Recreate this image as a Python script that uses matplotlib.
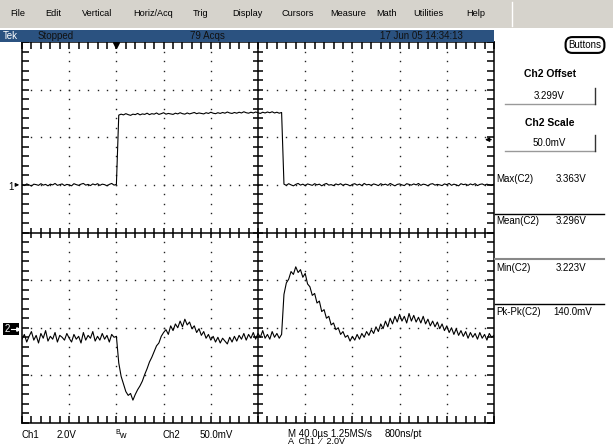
import numpy as np
import matplotlib
matplotlib.use('Agg')
import matplotlib.pyplot as plt
from matplotlib.patches import Rectangle
from matplotlib.lines import Line2D

plt.rcParams['font.family'] = ['Liberation Sans', 'DejaVu Sans']

# ---- data (2 us per sample) ----
t_us = np.arange(-80, 321, 2)

# Ch1 in volts
ch1_low_a = [0.02, -0.03, 0.04, 0.00, -0.05, 0.03, 0.01, -0.02, 0.05, -0.01,
             0.02, -0.04, 0.03, 0.00, 0.06, -0.02, 0.01, 0.04, -0.03, 0.02,
             0.00, -0.04, 0.05, 0.01, -0.02, 0.03, 0.06, -0.01, 0.02, -0.03,
             0.04, 0.00, 0.05, -0.02, 0.03, 0.01, -0.04, 0.02, 0.06, -0.01, 0.02]
ch1_high = [2.93, 2.97, 2.94, 2.99, 2.95, 2.92, 2.97, 2.95, 3.00, 2.94,
            2.98, 2.96, 3.01, 2.95, 2.99, 2.97, 3.02, 2.96, 2.99, 3.03,
            2.97, 3.00, 2.98, 2.96, 3.01, 2.98, 3.03, 2.99, 2.97, 3.02,
            2.98, 3.01, 3.04, 2.99, 3.02, 3.00, 2.98, 3.03, 3.00, 3.05,
            3.01, 2.99, 3.03, 3.00, 3.04, 3.01, 3.06, 3.02, 3.00, 3.04,
            3.01, 3.05, 3.02, 3.07, 3.03, 3.01, 3.05, 3.02, 3.06, 3.03,
            3.00, 3.05, 3.02, 3.06, 3.03, 3.07, 3.02, 3.05, 3.01, 3.04]
ch1_low_b = [0.03, -0.02, 0.05, 0.00, -0.04, 0.02, 0.06, -0.01, 0.03, -0.03,
             0.04, 0.01, -0.02, 0.05, 0.00, 0.03, -0.04, 0.02, 0.06, -0.01,
             0.01, -0.03, 0.04, 0.00, 0.05, -0.02, 0.03, 0.01, -0.04, 0.02,
             0.05, -0.01, 0.03, -0.03, 0.06, 0.00, 0.02, -0.02, 0.04, 0.01,
             -0.03, 0.05, 0.00, 0.03, -0.02, 0.06, 0.01, -0.04, 0.02, 0.04,
             0.00, -0.03, 0.05, 0.02, -0.01, 0.04, 0.00, 0.06, -0.02, 0.03,
             0.01, -0.04, 0.03, 0.05, -0.01, 0.02, 0.00, -0.03, 0.04, 0.01,
             0.06, -0.02, 0.03, 0.00, -0.04, 0.05, 0.01, 0.03, -0.02, 0.04,
             0.00, 0.05, -0.03, 0.02, 0.04, -0.01, 0.03, 0.00, -0.02, 0.03]

# Ch2 in millivolts
ch2_pre = [3287, 3292, 3284, 3290, 3295, 3286, 3291, 3283, 3293, 3288,
           3296, 3285, 3290, 3287, 3294, 3284, 3291, 3289, 3286, 3293,
           3288, 3284, 3292, 3287, 3290, 3283, 3294, 3286, 3291, 3288,
           3295, 3285, 3290, 3286, 3293, 3287, 3291, 3284, 3292, 3289, 3290]
ch2_dip = [3262, 3248, 3240, 3232, 3228, 3230, 3223, 3229, 3234, 3238,
           3243, 3250, 3256, 3263, 3268, 3274, 3280, 3283, 3290, 3294]
ch2_mid = [3297, 3292, 3301, 3296, 3303, 3299, 3306, 3300, 3308, 3302,
           3305, 3298, 3301, 3294, 3298, 3291, 3295, 3288, 3292, 3286,
           3290, 3284, 3289, 3283, 3288, 3285, 3282, 3289, 3284, 3290,
           3285, 3291, 3287, 3293, 3286, 3292, 3288, 3294, 3287, 3293,
           3289, 3296, 3288, 3292, 3287, 3295, 3289, 3293, 3288, 3292]
ch2_post = [3334, 3346, 3350, 3358, 3355, 3363, 3357, 3360, 3352, 3356,
            3345, 3342, 3333, 3335, 3325, 3327, 3316, 3318, 3309, 3311,
            3302, 3304, 3297, 3299, 3292, 3295, 3289, 3291, 3285, 3290,
            3286, 3292, 3287, 3293, 3289, 3295, 3291, 3297, 3293, 3300,
            3295, 3303, 3298, 3306, 3300, 3309, 3303, 3311, 3305, 3313,
            3306, 3311, 3304, 3314, 3306, 3312, 3305, 3310, 3304, 3311,
            3303, 3308, 3301, 3306, 3300, 3305, 3298, 3303, 3296, 3301,
            3294, 3299, 3292, 3298, 3291, 3296, 3290, 3295, 3288, 3294,
            3289, 3293, 3287, 3294, 3288, 3292, 3286, 3293, 3289, 3291]

ch1_v = np.array(ch1_low_a + ch1_high + ch1_low_b)
ch2_v = np.array(ch2_pre + ch2_dip + ch2_mid + ch2_post) / 1000.0

# scope settings
ch1_scale, ch1_pos = 2.0, 1.0
ch2_scale, ch2_offset, ch2_pos = 0.05, 3.299, -2.0
trig_level = 1.9

menu_items = ['File', 'Edit', 'Vertical', 'Horiz/Acq', 'Trig', 'Display',
              'Cursors', 'Measure', 'Math', 'Utilities', 'Help']
meas_names = ['Max(C2)', 'Mean(C2)', 'Min(C2)', 'Pk-Pk(C2)']
meas_vals = ['3.363V', '3.296V', '3.223V', '140.0mV']

# ---- figure ----
W, H = 613, 447
fig = plt.figure(figsize=(W / 100, H / 100), dpi=100)
fig.patch.set_facecolor('white')


def fx(x):
    return x / W


def fy(y):
    return 1 - y / H


def put(x, y, s, **kw):
    kw.setdefault('fontsize', 7)
    kw.setdefault('va', 'center')
    return fig.text(fx(x), fy(y), s, **kw)


def box(x0, y0, x1, y1, color):
    fig.add_artist(Rectangle((fx(x0), fy(y1)), fx(x1) - fx(x0), fy(y0) - fy(y1),
                             transform=fig.transFigure, fc=color, ec='none'))


def hline(x0, x1, y, color='k', lw=1.0):
    fig.add_artist(Line2D([fx(x0), fx(x1)], [fy(y), fy(y)], transform=fig.transFigure,
                          color=color, lw=lw))


def vline(x, y0, y1, color='k', lw=1.0):
    fig.add_artist(Line2D([fx(x), fx(x)], [fy(y0), fy(y1)], transform=fig.transFigure,
                          color=color, lw=lw))


# menu bar + status bar
box(0, 0, W, 28, '#d6d3cc')
vline(512, 2, 26, color='white', lw=1.0)
menu_x = [10, 45, 82, 133, 193, 232, 281, 330, 376, 413, 466]
for name, x in zip(menu_items, menu_x):
    put(x, 13, name, fontsize=6.6)
box(0, 30, 494, 42, '#2b5280')
put(3, 36, 'Tek', color='white')
put(38, 36, 'Stopped', color='#111111')
put(190, 36, '79 Acqs', color='#111111')
put(380, 36, '17 Jun 05 14:34:13', color='#111111')

# graticule
ax = fig.add_axes([fx(22), fy(423), fx(494) - fx(22), fy(42) - fy(423)])
ax.set_xlim(-80, 320)
ax.set_ylim(-4, 4)
minor_x = np.arange(-80, 321, 8)
minor_y = np.linspace(-4, 4, 41)
ax.set_xticks(minor_x)
ax.set_yticks(minor_y)
ax.tick_params(direction='in', length=5, width=1.1, color='black', top=True, right=True,
               labelbottom=False, labelleft=False)
for sp in ax.spines.values():
    sp.set_linewidth(1.1)

inner_x = minor_x[1:-1]
inner_y = minor_y[1:-1]
for mx in [-40, 0, 40, 80, 160, 200, 240, 280]:
    ax.plot(np.full(len(inner_y), mx), inner_y, ls='none', marker='s', ms=1.0,
            mew=0, color='#222222')
for my in [-3, -2, -1, 1, 2, 3]:
    ax.plot(inner_x, np.full(len(inner_x), my), ls='none', marker='s', ms=1.0,
            mew=0, color='#222222')
ax.axvline(120, color='k', lw=1.1)
ax.axhline(0, color='k', lw=1.1)
ax.plot(inner_x, np.zeros(len(inner_x)), ls='none', marker='|', ms=7, mew=1.1, color='k')
ax.plot(np.full(len(inner_y), 120), inner_y, ls='none', marker='_', ms=7, mew=1.1, color='k')

# traces
ax.plot(t_us, ch1_v / ch1_scale + ch1_pos, color='k', lw=0.8, zorder=5)
ax.plot(t_us, (ch2_v - ch2_offset) / ch2_scale + ch2_pos, color='k', lw=0.8, zorder=5)

# markers: trigger position, trigger level, channel grounds
ax.plot([0], [3.93], marker='v', ms=5, color='k', clip_on=False)
tl = trig_level / ch1_scale + ch1_pos
ax.annotate('', xy=(310, tl), xytext=(320, tl),
            arrowprops=dict(arrowstyle='-|>', lw=0.9, color='k', mutation_scale=6))
put(8, 187, '1', fontsize=7)
ax.annotate('', xy=(-80, ch1_pos), xytext=(-87, ch1_pos), annotation_clip=False,
            arrowprops=dict(arrowstyle='-|>', lw=0.8, color='k', mutation_scale=5))
box(3, 323, 19, 335, 'black')
put(5, 329, '2', color='white', fontsize=7)
fig.add_artist(Line2D([fx(11), fx(18)], [fy(329), fy(329)], transform=fig.transFigure,
                      color='white', lw=0.8, marker='>', markevery=[1], ms=2.5))

# bottom readout
put(22, 435, 'Ch1')
put(57, 435, '2.0V')
put(115, 432, 'B', fontsize=5)
put(119, 435, 'w', fontsize=6.5)
put(163, 435, 'Ch2')
put(200, 435, '50.0mV')
put(288, 434, 'M 40.0\u00b5s 1.25MS/s')
put(385, 434, '800ns/pt')
put(288, 442, 'A  Ch1  \u2044  2.0V', fontsize=6.5)

# right panel
put(585, 45, 'Buttons', ha='center', fontsize=7,
    bbox=dict(boxstyle='round,pad=0.3,rounding_size=0.7', fc='white', ec='black', lw=1.5))
put(550, 74, 'Ch2 Offset', ha='center', fontweight='bold', fontsize=7.5)
put(549, 96, '3.299V', ha='center')
hline(505, 595, 104, color='#999999')
vline(595, 88, 104, color='#333333')
put(550, 123, 'Ch2 Scale', ha='center', fontweight='bold', fontsize=7.5)
put(549, 143, '50.0mV', ha='center')
hline(505, 595, 151, color='#999999')
vline(595, 135, 151, color='#333333')

meas_y = [179, 221, 268, 312]
for name, val, y in zip(meas_names, meas_vals, meas_y):
    put(496, y, name)
    put(556 if len(val) < 7 else 553, y, val)
hline(495, 604, 214)
hline(495, 604, 259, color='#888888', lw=1.5)
hline(495, 604, 304)

fig.savefig('out.png', dpi=100)
